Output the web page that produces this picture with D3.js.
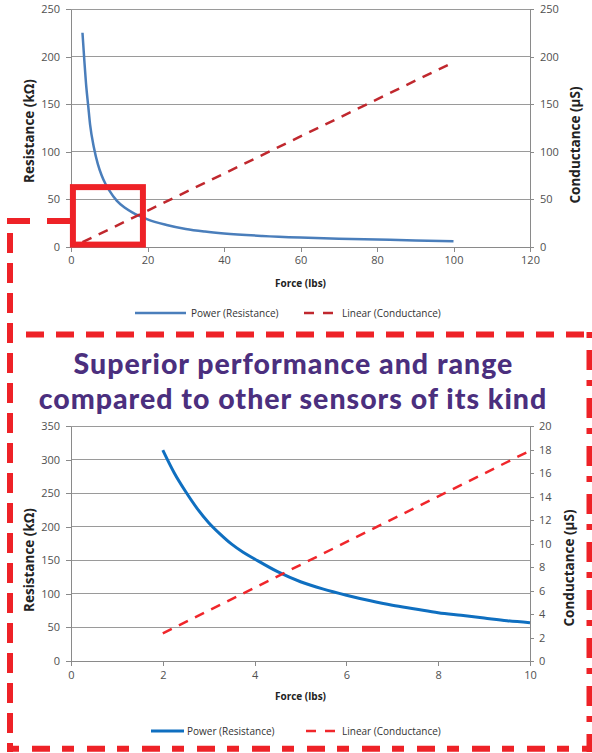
<!DOCTYPE html>
<html>
<head>
<meta charset="utf-8">
<script src="https://cdn.jsdelivr.net/npm/d3@7"></script>
<style>
  html, body { margin: 0; padding: 0; background: #fff; }
  svg { display: block; }
</style>
</head>
<body>
<svg id="chart" width="592" height="753"></svg>
<script>
// ---------- DATA ----------
// Top chart: 0-120 lbs
const forceTop = [3, 3.5, 4, 4.5, 5, 6, 7, 8, 9, 10, 12, 14, 16, 18, 20, 25, 30, 35, 40, 50, 60, 70, 80, 90, 100];
const resistanceTop = [225, 195, 168, 148, 128, 104, 87, 75, 66, 59, 48, 41, 36, 32, 28.5, 22.6, 18.4, 15.7, 13.7, 11.1, 9.4, 8.2, 7.3, 6.4, 5.6];
const forceTopLin = [3, 99];
const conductanceTop = [4.5, 192];
const xTicksTop = [0, 20, 40, 60, 80, 100, 120];
const yTicksTopL = [0, 50, 100, 150, 200, 250];
const yTicksTopR = [0, 50, 100, 150, 200, 250];

// Bottom chart: 0-10 lbs
const forceBot = [2, 2.25, 2.5, 2.75, 3, 3.25, 3.5, 3.75, 4, 4.5, 5, 5.5, 6, 6.5, 7, 7.5, 8, 8.5, 9, 9.5, 10];
const resistanceBot = [314, 280, 252, 227, 206, 189, 174, 162, 152, 133, 118, 107, 98, 90, 83, 77.5, 72, 68, 64, 60, 57];
const forceBotLin = [2, 10];
const conductanceBot = [2.35, 17.9];
const xTicksBot = [0, 2, 4, 6, 8, 10];
const yTicksBotL = [0, 50, 100, 150, 200, 250, 300, 350];
const yTicksBotR = [0, 2, 4, 6, 8, 10, 12, 14, 16, 18, 20];

// Highlight box on the top chart (force range, resistance range)
const highlightForce = [0.5, 18.8];
const highlightRes = [2, 62.5];

const titleLines = ["Superior performance and range", "compared to other sensors of its kind"];
const legendLabels = ["Power (Resistance)", "Linear (Conductance)"];
const xLabel = "Force (lbs)";
const yLabelL = "Resistance (kΩ)";
const yLabelR = "Conductance (µS)";

// ---------- DRAW ----------
const svg = d3.select("#chart");
const FONT = "'Open Sans', 'Noto Sans', sans-serif";
const RED = "#ee2227";
const GRID = "#9a9a9a";
const AXIS = "#8a8a8a";

function drawChart(cfg) {
  const g = svg.append("g");
  const x = d3.scaleLinear().domain(cfg.xDomain).range([71, 530]);
  const yL = d3.scaleLinear().domain(cfg.yLDomain).range([cfg.bottom, cfg.top]);
  const yR = d3.scaleLinear().domain(cfg.yRDomain).range([cfg.bottom, cfg.top]);

  // gridlines
  g.append("g").selectAll("line").data(cfg.yTicksL.slice(1)).join("line")
    .attr("x1", x.range()[0]).attr("x2", x.range()[1])
    .attr("y1", d => yL(d)).attr("y2", d => yL(d))
    .attr("stroke", GRID).attr("stroke-width", 1).attr("shape-rendering", "crispEdges");

  const styleAxis = sel => {
    sel.selectAll("path.domain").attr("stroke", AXIS);
    sel.selectAll(".tick line").attr("stroke", AXIS);
    sel.selectAll("text").attr("fill", "#505050").attr("font-family", FONT).attr("font-size", 11);
    sel.attr("shape-rendering", "crispEdges");
  };

  g.append("g").attr("transform", `translate(0,${cfg.bottom})`)
    .call(d3.axisBottom(x).tickValues(cfg.xTicks).tickSize(5).tickSizeOuter(0).tickPadding(5).tickFormat(d3.format("d")))
    .call(styleAxis);
  g.append("g").attr("transform", `translate(71,0)`)
    .call(d3.axisLeft(yL).tickValues(cfg.yTicksL).tickSize(5).tickSizeOuter(0).tickPadding(6).tickFormat(d3.format("d")))
    .call(styleAxis);
  g.append("g").attr("transform", `translate(530,0)`)
    .call(d3.axisRight(yR).tickValues(cfg.yTicksR).tickSize(4).tickSizeOuter(0).tickPadding(cfg.rPad).tickFormat(d3.format("d")))
    .call(styleAxis);

  // series
  const lineR = d3.line().x((d, i) => x(cfg.force[i])).y(d => yL(d)).curve(d3.curveMonotoneX);
  g.append("path").attr("d", lineR(cfg.res))
    .attr("fill", "none").attr("stroke", cfg.blue).attr("stroke-width", cfg.blueW).attr("stroke-linecap", "butt");
  const lineC = d3.line().x((d, i) => x(cfg.forceLin[i])).y(d => yR(d));
  g.append("path").attr("d", lineC(cfg.cond))
    .attr("fill", "none").attr("stroke", cfg.red).attr("stroke-width", cfg.redW)
    .attr("stroke-dasharray", cfg.dash);

  // axis titles
  g.append("text").attr("x", 300.5).attr("y", cfg.xLabelY).attr("text-anchor", "middle")
    .attr("font-family", FONT).attr("font-weight", "bold").attr("font-size", 10).attr("fill", "#222").text(xLabel);
  g.append("text").attr("transform", `translate(${cfg.yLx},${cfg.yLy}) rotate(-90)`).attr("text-anchor", "middle")
    .attr("font-family", FONT).attr("font-weight", "bold").attr("font-size", 13.5).attr("fill", "#222").text(yLabelL);
  g.append("text").attr("transform", `translate(${cfg.yRx},${cfg.yRy}) rotate(-90)`).attr("text-anchor", "middle")
    .attr("font-family", FONT).attr("font-weight", "bold").attr("font-size", 13.5).attr("fill", "#222").text(yLabelR);

  // legend
  const ly = cfg.legendY;
  g.append("line").attr("x1", cfg.lg[0]).attr("x2", cfg.lg[1]).attr("y1", ly).attr("y2", ly)
    .attr("stroke", cfg.blue).attr("stroke-width", cfg.blueW);
  g.append("text").attr("x", cfg.lg[2]).attr("y", ly + 3.5).attr("font-family", FONT).attr("font-size", 10)
    .attr("fill", "#333").text(legendLabels[0]);
  g.append("line").attr("x1", cfg.lg[3]).attr("x2", cfg.lg[4]).attr("y1", ly).attr("y2", ly)
    .attr("stroke", cfg.red).attr("stroke-width", cfg.redW).attr("stroke-dasharray", "10 9");
  g.append("text").attr("x", cfg.lg[5]).attr("y", ly + 3.5).attr("font-family", FONT).attr("font-size", 10)
    .attr("fill", "#333").text(legendLabels[1]);

  return { g, x, yL, yR };
}

const topChart = drawChart({
  xDomain: [0, 120], yLDomain: [0, 250], yRDomain: [0, 250],
  top: 9, bottom: 246.5,
  xTicks: xTicksTop, yTicksL: yTicksTopL, yTicksR: yTicksTopR, rPad: 6,
  force: forceTop, res: resistanceTop, forceLin: forceTopLin, cond: conductanceTop,
  blue: "#4a7ebb", blueW: 2.5, red: "#c0282e", redW: 2.5, dash: "10 8",
  xLabelY: 287, yLx: 34, yLy: 131, yRx: 580, yRy: 145,
  legendY: 313, lg: [135, 186, 191, 304, 333, 342]
});

const botChart = drawChart({
  xDomain: [0, 10], yLDomain: [0, 350], yRDomain: [0, 20],
  top: 426, bottom: 661,
  xTicks: xTicksBot, yTicksL: yTicksBotL, yTicksR: yTicksBotR, rPad: 5,
  force: forceBot, res: resistanceBot, forceLin: forceBotLin, cond: conductanceBot,
  blue: "#0f6fc0", blueW: 3, red: "#f0262b", redW: 2.5, dash: "10 8",
  xLabelY: 700, yLx: 34, yLy: 560, yRx: 574, yRy: 568,
  legendY: 731, lg: [151, 184, 187, 306, 336, 342]
});

// highlight box on top chart
topChart.g.append("rect")
  .attr("x", topChart.x(highlightForce[0])).attr("y", topChart.yL(highlightRes[1]))
  .attr("width", topChart.x(highlightForce[1]) - topChart.x(highlightForce[0]))
  .attr("height", topChart.yL(highlightRes[0]) - topChart.yL(highlightRes[1]))
  .attr("fill", "none").attr("stroke", RED).attr("stroke-width", 6);

// dashed frame around bottom chart
const frame = svg.append("g").attr("stroke", RED).attr("stroke-width", 6).attr("fill", "none");
frame.append("path").attr("d", "M70,221 H7").attr("stroke-dasharray", "23 17");
frame.append("path").attr("d", "M10,233 V752").attr("stroke-dasharray", "20 10");
frame.append("path").attr("d", "M7,334.5 H592").attr("stroke-dasharray", "6 13" + " 18 12".repeat(24));
frame.append("path").attr("d", "M589.5,332 V752").attr("stroke-dasharray", "6 12 20 10");
frame.append("path").attr("d", "M7,748.7 H592").attr("stroke-dasharray", "12 13 18 12");

// title: two lines
const title = svg.append("g").attr("fill", "#4b2f7e").attr("font-family", "Lato, 'Open Sans', sans-serif")
  .attr("font-weight", "900").attr("text-anchor", "middle").attr("font-size", 28.5)
  .attr("letter-spacing", 1);
title.append("text").attr("x", 293.5).attr("y", 374).text(titleLines[0]);
title.append("text").attr("x", 293).attr("y", 409).text(titleLines[1]);
</script>
</body>
</html>
